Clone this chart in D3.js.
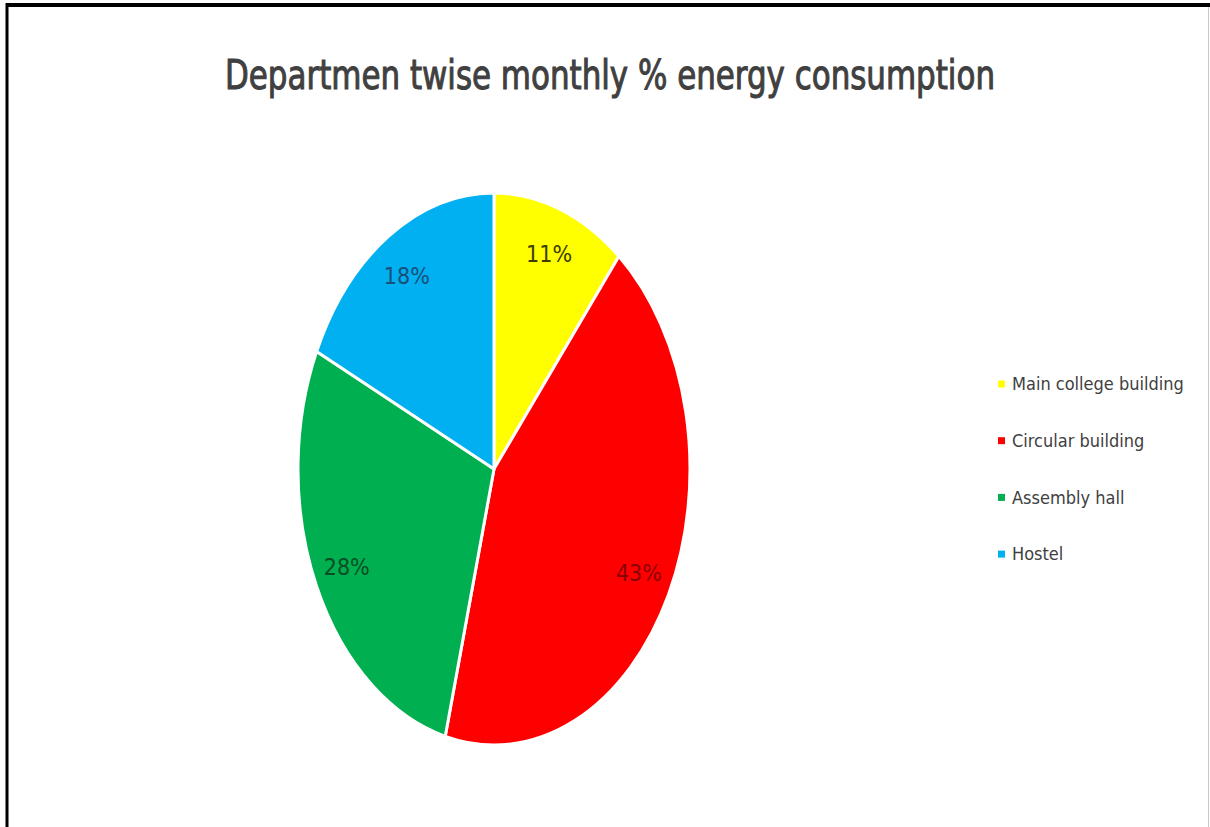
<!DOCTYPE html>
<html>
  <head>
    <title>Energy consumption</title>
    <style>
      body { margin: 0; background: #fff; }
      svg { display: block; }
    </style>
  </head>
  <body>
    <svg id="canvas" width="1210" height="827"></svg>
    <script src="https://d3js.org/d3.v7.min.js"></script>
    <script>
      // data
      var categories = ["Main college building", "Circular building", "Assembly hall", "Hostel"];
      var values = [11, 43, 28, 18];
      var colors = ["#ffff00", "#ff0000", "#00b050", "#00b0f0"];
      var labelColors = ["#3d3d00", "#8b0000", "#0b4d24", "#1a4f7a"];

      const font = "'Liberation Sans Narrow', 'DejaVu Sans Condensed', 'Liberation Sans', sans-serif";
      const svg = d3.select("#canvas");

      // frame
      svg.append("rect").attr("x", 0).attr("y", 0).attr("width", 1210).attr("height", 827).attr("fill", "#fff");
      svg.append("line").attr("x1", 6).attr("x2", 1210).attr("y1", 5).attr("y2", 5)
        .attr("stroke", "#000").attr("stroke-width", 4);
      svg.append("line").attr("x1", 7).attr("x2", 7).attr("y1", 3).attr("y2", 827)
        .attr("stroke", "#000").attr("stroke-width", 3);
      svg.append("line").attr("x1", 1208.5).attr("x2", 1208.5).attr("y1", 7).attr("y2", 827)
        .attr("stroke", "#c8c8c8").attr("stroke-width", 1);

      // title
      svg.append("text")
        .attr("x", 610)
        .attr("y", 89)
        .attr("text-anchor", "middle")
        .attr("font-family", font)
        .attr("font-size", 41)
        .attr("fill", "#404040")
        .attr("stroke", "#404040")
        .attr("stroke-width", 1)
        .attr("textLength", 770)
        .attr("lengthAdjust", "spacingAndGlyphs")
        .text("Departmen twise monthly % energy consumption");

      // pie (an ellipse: circle stretched vertically)
      const cx = 494, cy = 469, rx = 196, ry = 276;
      const pie = d3.pie().sort(null).value(d => d);
      const arcs = pie(values);
      const arc = d3.arc().innerRadius(0).outerRadius(ry);
      const labelArc = d3.arc().innerRadius(ry * 0.83).outerRadius(ry * 0.83);

      const g = svg.append("g")
        .attr("transform", "translate(" + cx + "," + cy + ") scale(" + (rx / ry) + ",1)");
      g.selectAll("path")
        .data(arcs)
        .enter()
        .append("path")
        .attr("d", arc)
        .attr("fill", (d, i) => colors[i])
        .attr("stroke", "#fff")
        .attr("stroke-width", 3)
        .attr("vector-effect", "non-scaling-stroke")
        .attr("stroke-linejoin", "round");

      svg.append("g")
        .selectAll("text")
        .data(arcs)
        .enter()
        .append("text")
        .attr("x", d => cx + labelArc.centroid(d)[0] * rx / ry)
        .attr("y", d => cy + labelArc.centroid(d)[1])
        .attr("dy", "0.35em")
        .attr("text-anchor", "middle")
        .attr("font-family", font)
        .attr("font-size", 23)
        .attr("fill", (d, i) => labelColors[i])
        .text((d, i) => values[i] + "%");

      // legend
      const legend = svg.append("g").attr("transform", "translate(998,384)");
      const rows = legend.selectAll("g")
        .data(categories)
        .enter()
        .append("g")
        .attr("transform", (d, i) => "translate(0," + i * 56.7 + ")");
      rows.append("rect")
        .attr("x", 0).attr("y", -3.5)
        .attr("width", 7).attr("height", 7)
        .attr("fill", (d, i) => colors[i]);
      rows.append("text")
        .attr("x", 14)
        .attr("y", 0)
        .attr("dy", "0.35em")
        .attr("font-family", font)
        .attr("font-size", 18)
        .attr("fill", "#404040")
        .text(d => d);
    </script>
  </body>
</html>
